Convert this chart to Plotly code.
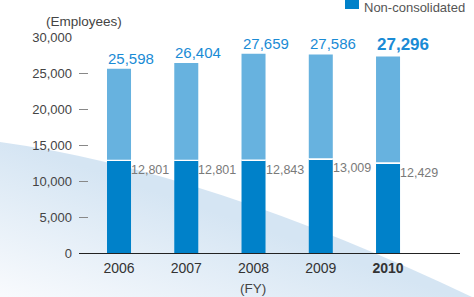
import base64
import plotly.graph_objects as go

years = ["2006", "2007", "2008", "2009", "2010"]
year_labels = ["2006", "2007", "2008", "2009", "<b>2010</b>"]
total = [25598, 26404, 27659, 27586, 27296]
non_consolidated = [12801, 12801, 12843, 13009, 12429]
total_text = ["25,598", "26,404", "27,659", "27,586", "27,296"]
nonc_text = ["12,801", "12,801", "12,843", "13,009", "12,429"]
y_ticks = [0, 5000, 10000, 15000, 20000, 25000, 30000]
y_tick_text = ["0", "5,000", "10,000", "15,000", "20,000", "25,000", "30,000"]

W, H = 474, 297
FONT = "Liberation Sans, Arial, sans-serif"
DARK = "#0081c9"
LIGHT = "#67b2df"
GAP = 160  # thin white separator (data units)

svg = f"""<svg xmlns='http://www.w3.org/2000/svg' width='{W}' height='{H}' viewBox='0 0 {W} {H}'>
<defs><linearGradient id='g' gradientUnits='userSpaceOnUse' x1='-43' y1='122' x2='-92' y2='262'>
<stop offset='0' stop-color='#d5e5f3'/><stop offset='1' stop-color='#f8fafd'/></linearGradient></defs>
<path d='M0,142 Q205,170 472,297 L0,297 Z' fill='url(#g)'/></svg>"""
src = "data:image/svg+xml;base64," + base64.b64encode(svg.encode()).decode()

fig = go.Figure()
fig.add_trace(go.Bar(x=years, y=non_consolidated, marker_color=DARK, width=0.357,
                     marker_line_width=0, hoverinfo="skip"))
fig.add_trace(go.Bar(x=years, y=[GAP] * len(years), base=non_consolidated,
                     marker_color="white", width=0.357, marker_line_width=0, hoverinfo="skip"))
fig.add_trace(go.Bar(x=years, y=[t - n - GAP for t, n in zip(total, non_consolidated)],
                     base=[n + GAP for n in non_consolidated],
                     marker_color=LIGHT, width=0.357, marker_line_width=0, hoverinfo="skip"))

ann = []
for i, (t, n) in enumerate(zip(total, non_consolidated)):
    last = i == len(years) - 1
    ann.append(dict(x=i, y=t, xref="x", yref="y",
                    text=(f"<b>{total_text[i]}</b>" if last else total_text[i]),
                    showarrow=False, xanchor="left", yanchor="bottom", xshift=-13, yshift=0,
                    font=dict(family=FONT, size=17 if last else 15, color="#1a8bd5")))
    ann.append(dict(x=i, y=n, xref="x", yref="y", text=nonc_text[i], showarrow=False,
                    xanchor="left", yanchor="top", xshift=10, yshift=0,
                    font=dict(family=FONT, size=12.5, color="#7a7a7a")))

ann += [
    dict(x=84 / W, y=1 - 21 / H, xref="paper", yref="paper", text="(Employees)", showarrow=False,
         xanchor="center", yanchor="middle", font=dict(family=FONT, size=13.5, color="#444")),
    dict(x=253 / W, y=1 - 288 / H, xref="paper", yref="paper", text="(FY)", showarrow=False,
         xanchor="center", yanchor="middle", font=dict(family=FONT, size=13.5, color="#444")),
    dict(x=362 / W, y=1, xref="paper", yref="paper", text="Non-consolidated", showarrow=False,
         xanchor="left", yanchor="top", yshift=2, font=dict(family=FONT, size=13, color="#555")),
]

fig.update_layout(
    width=W, height=H, margin=dict(l=0, r=0, t=0, b=0, autoexpand=False),
    paper_bgcolor="white", plot_bgcolor="rgba(0,0,0,0)",
    barmode="overlay", showlegend=False,
    font=dict(family=FONT, color="#444"),
    annotations=ann,
    images=[dict(source=src, xref="paper", yref="paper", x=0, y=1, sizex=1, sizey=1,
                 sizing="stretch", layer="below", xanchor="left", yanchor="top")],
    shapes=[dict(type="rect", xref="paper", yref="paper", x0=345 / W, x1=359 / W,
                 y0=1 - 9 / H, y1=1.01, fillcolor=DARK, line_width=0)],
    xaxis=dict(domain=[79 / W, 460 / W], range=[-0.595, 5.07], type="category",
               tickmode="array", tickvals=years, ticktext=year_labels,
               showline=True, linecolor="#222", linewidth=1.3, ticks="", showgrid=False,
               zeroline=False, tickfont=dict(family=FONT, size=14, color="#333"),
               ticklabelstandoff=2, fixedrange=True, automargin=False),
    yaxis=dict(domain=[(H - 253) / H, (H - 37) / H], range=[0, 30000],
               tickmode="array", tickvals=y_ticks, ticktext=y_tick_text,
               showline=False, showgrid=False, zeroline=False,
               ticks="inside", ticklen=9, tickcolor="#888", tickwidth=1,
               ticklabelstandoff=6, tickfont=dict(family=FONT, size=13, color="#444"),
               fixedrange=True, automargin=False),
)

fig.write_html("out.html", config={"displayModeBar": False},
               post_script="document.body.style.margin='0';document.body.style.overflow='hidden';")
